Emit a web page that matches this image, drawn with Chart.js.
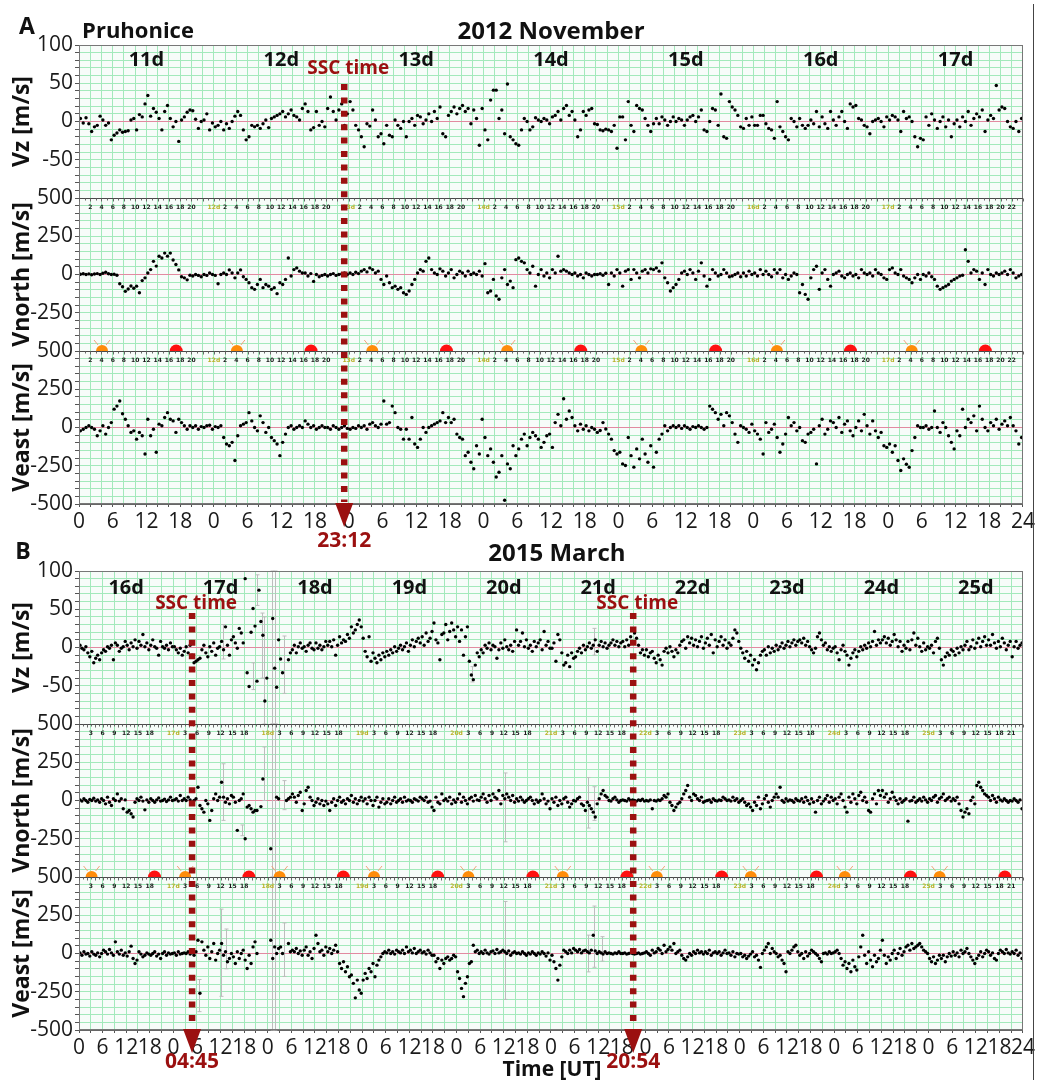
<!DOCTYPE html>
<html>
<head>
<meta charset="utf-8">
<title>Pruhonice drift velocities</title>
<script src="https://cdn.jsdelivr.net/npm/chart.js@4.4.1/dist/chart.umd.min.js"></script>
<style>
  body { margin: 0; background: #fff; width: 1037px; height: 1080px; position: relative; overflow: hidden; font-family: "Open Sans", sans-serif; }
  canvas { position: absolute; left: 0; }
  #chartA { top: 0; }
  #chartB { top: 548px; }
  .lbl { position: absolute; font-weight: bold; color: #111; white-space: nowrap; line-height: 1; transform: translate(-50%, -50%); z-index: 2; }
  .frame { position: absolute; left: 1033px; top: 4px; width: 1px; height: 1076px; background: #444; }
</style>
</head>
<body>
<canvas id="chartA" width="1037" height="548"></canvas>
<canvas id="chartB" width="1037" height="532"></canvas>
<div class="frame"></div>
<div class="lbl" style="left:27px;top:25px;font-size:23px">A</div>
<div class="lbl" style="left:138px;top:29px;font-size:22px">Pruhonice</div>
<div class="lbl" style="left:551px;top:30px;font-size:24px">2012 November</div>
<div class="lbl" style="left:23px;top:550px;font-size:23px">B</div>
<div class="lbl" style="left:557px;top:552px;font-size:24px">2015 March</div>
<div class="lbl" style="left:552px;top:1068px;font-size:21px">Time [UT]</div>
<script>
// ---- panel A: 2012 November 11-17, one value every 30 min ----
const daysA = ['11d', '12d', '13d', '14d', '15d', '16d', '17d'];
const aVz = [
  4,-2,5,-3, -13,-7,-5,7, 2,-5,-2,-24, -18,-15,-11,-14, -13,-12,2,4, -11,9,6,23, 34,7,17,12, 4,-11,13,21, 4,-7,0,-26, 2,6,12,15, 14,3,-9,0, 2,10,-11,-2,
  -7,-5,0,-11, -3,-9,0,7, 13,8,-11,-24, -20,-5,-7,-5, -9,-3,2,-8, 4,6,8,10, 13,6,10,15, 8,6,2,17, 23,13,-11,-8, 13,-5,0,-7, 17,32,13,2, 15,23,-5,10,
  26,15,-5,-11, -20,-33,-3,-6, 15,2,-20,-16, -29,-5,-18,-20, 2,-5,-9,0, -20,0,4,-5, 8,6,-3,2, 10,0,13,4, 19,-16,-20,8, 13,19,10,17, 21,13,17,-3, 15,4,-31,17,
  -11,-24,28,41, 41,4,15,-16, 49,-20,-24,-29, -31,-11,4,0, -11,-7,5,2, 0,4,2,-3, 6,8,13,2, 17,21,8,13, 2,-20,-11,13, 8,15,17,-3, -4,-11,-12,-10, -11,-13,-5,-35,
  6,6,-24,26, -5,-13,21,17, 15,4,-5,-13, -3,4,-3,6, 2,-5,0,6, 0,4,2,-5, 2,6,8,0, 6,15,-11,-13, 0,17,15,-5, 36,-20,-22,26, 19,15,8,-7, -9,4,-5,6,
  -5,-5,8,8, -3,-9,-11,-22, 26,-7,-13,-20, -24,4,0,-7, 4,-5,-9,-5, 2,-3,13,-7, 6,-3,-9,13, 2,-5,6,13, 0,-9,23,19, 21,4,2,-5, -7,-16,0,2, 4,0,-7,6,
  2,8,6,2, -13,13,4,6, 0,-20,-33,-22, -24,6,-5,10, 2,-9,0,6, -7,2,-20,-3, 2,-7,6,0, 13,-5,4,10, 6,15,-13,2, 8,4,47,15, 19,17,0,-7, -9,0,-13,4
];
const aVnorth = [
  2,5,0,4, -2,3,6,0, 8,15,5,0, 2,-5,-60,-80, -110,-95,-75,-90, -76,-119,-40,-22, 10,32,86,55, 119,108,140,120, 140,95,65,30, -15,-22,-35,-5, -10,0,-6,-15, 0,-6,10,0,
  -6,-60,0,10, 0,30,10,-22, 10,30,-15,-32, -54,-86,-97,-65, -32,-86,-65,-76, -97,-86,-125,-54, -65,-32,108,-10, 32,43,22,10, 10,-10,6,-45, 0,-15,-6,0, -10,0,6,-6, 0,4,10,0,
  10,0,15,6, 22,32,17,43, 32,10,22,-32, -65,-10,-54,-86, -76,-97,-86,-119, -130,-108,-65,-32, 10,32,22,86, 108,32,10,0, 37,22,-10,10, 32,-22,0,22, 10,-10,22,0, 10,0,22,-10,
  71,-119,-108,-32, -140,-162,-22,32, -65,-43,-86,97, 108,86,76,32, 10,54,-76,0, 32,-10,10,-22, 32,10,119,22, 32,22,10,0, 10,-10,0,-22, 10,0,-10,0, 0,5,-5,8, -65,10,-10,32,
  10,-76,22,32, -32,32,10,-22, 22,32,10,37, 32,43,22,76, -22,-54,-108,-86, -65,-32,10,22, 0,32,10,-32, 22,76,-10,-76, -32,32,10,-10, 0,32,10,-15, -10,0,10,-15, 10,-10,22,0,
  10,-10,32,0, 22,0,-15,32, 10,32,-22,0, -32,-10,10,0, -119,-65,-130,-162, -22,32,54,-97, 10,32,-32,-76, 0,10,22,-10, -22,0,10,-10, 0,-22,32,10, 0,10,-10,32, 10,0,-22,-32,
  32,43,10,0, 32,-10,-22,-32, -54,-22,0,-32, 0,-10,10,-15, -32,-76,-97,-86, -76,-65,-43,-32, -22,-10,-5,162, 86,10,32,22, -32,10,-65,32, 0,-10,10,0, 10,22,0,32, 10,-22,-10,0
];
const aVeast = [
  -22,-11,0,11, 0,-11,-54,-22, 11,-43,0,32, 120,140,173,90, 54,11,-32,-22, -76,-32,-54,-173, 54,-54,-11,-162, 22,11,65,97, 54,43,-32,54, 32,11,-11,11, 0,11,-11,6, 0,11,15,-11,
  6,0,11,-65, -108,-119,-97,-216, -54,11,22,32, 97,43,0,-22, 76,32,-32,0, -65,-86,-108,-184, -97,-43,0,11, -11,0,11,0, 43,22,0,11, -11,0,11,0, 0,-11,11,0, -11,0,11,-6,
  -11,0,-6,11, 0,11,-11,22, 32,11,0,22, 173,22,32,140, 97,0,-11,-76, -11,-76,65,-108, -130,-76,0,-32, 0,11,22,32, 43,97,32,65, 32,54,-43,-65, -76,-184,-162,-227, -270,-119,-173,54,
  -65,-184,-140,-227, -324,-292,-184,-475, -238,-270,-119,-184, -140,-76,-43,-119, -65,-32,-54,-76, -130,-97,-54,-43, -130,32,86,11, 188,54,108,65, 11,-22,22,-11, 11,-22,0,-11, -32,-20,32,-10, -43,-76,-151,-173,
  -162,-238,-248,-65, -184,-259,-140,-205, -76,-173,-227,-119, -259,-162,-76,-43, 11,-22,0,11, 0,11,-6,11, 0,-11,6,0, 11,0,-11,0, 140,119,97,54, 86,11,97,76, 32,-43,-97,11, 0,-11,-32,22,
  -22,-43,-76,-173, 32,-32,-11,22, -65,-162,-108,-43, 65,11,32,-22, 0,-86,-97,-43, -32,-11,-238,11, 54,-43,-11,43, 32,0,65,-32, 22,43,-22,-54, 0,43,-22,86, 11,-43,43,-22, -65,-32,-119,-130,
  -108,-162,-119,-216, -281,-205,-240,-260, -151,-65,11,0, 0,11,-11,0, 108,0,-32,32, 0,-54,-97,-140, -22,-54,119,0, 54,32,76,-22, 140,54,0,-22, 32,11,54,-11, 22,43,11,65, 11,-22,-108,-65
];
const sunriseA = [4.1, 28.1, 52.2, 76.2, 100.1, 124.2, 148.2];
const sunsetA = [17.3, 41.3, 65.4, 89.3, 113.3, 137.3, 161.3];
const sscA = [{ h: 47.2, label: '23:12' }];

// ---- panel B: 2015 March 16-25, one value every 30 min ----
const daysB = ['16d', '17d', '18d', '19d', '20d', '21d', '22d', '23d', '24d', '25d'];
const bVz = [
  3,-1,-3,1,-7,-12, -5,-20,-14,-10,-16,-7, -3,-5,1,-1,3,-16, 6,3,-5,-1,1,8, 3,-3,6,1,10,-1, 8,3,17,1,6,-3, 3,10,1,-1,-10,8, 1,-1,3,-3,6,1,
  1,-3,-7,-1,-10,-5, 1,-7,3,-10,-20,-18, -16,-14,-3,3,-7,-12, 1,-5,6,-10,-1,1, 8,-3,27,3,-10,10, 14,6,-1,25,19,6, 90,-33,-51,20,51,28, -44,75,34,16,-70,-40,
  null,null,38,-27,-52,10, -15,-33,null,null,-16,-7, -3,3,-7,1,6,-1, 1,-5,3,6,-1,-3, 6,-1,3,-3,1,8, 3,8,1,10,-10,3, 14,6,10,8,17,12, 27,19,23,30,36,27,
  12,-5,-12,14,-18,-7, -14,-20,-10,-16,-7,-12, -5,-10,-3,-7,1,-5, -1,3,-3,1,6,-5, 3,10,1,8,12,6, 14,3,19,8,12,21, 32,10,6,-16,17,19, 30,10,21,32,23,14,
  27,8,23,-10,14,27, -18,-36,-42,-23,-7,-12, -3,-7,3,-1,6,-3, 3,1,-14,-3,6,-1, 10,1,-3,3,-5,8, 23,3,8,19,1,10, -1,3,-5,8,1,6, 10,-3,21,3,8,-1,
  -1,6,-18,17,10,-7, -23,-20,-10,-25,-7,-14, -12,-5,-1,-7,3,-3, 1,6,-1,3,10,-5, 3,8,1,6,-1,3, 6,10,3,8,1,6, 8,1,10,3,14,8, 19,12,3,-7,-3,-10,
  -3,-12,-7,-5,-14,-20, -10,-16,-23,-5,-1,-7, 1,-5,-12,-3,-7,3, 8,10,-1,14,6,12, 3,10,1,8,14,-1, 6,12,3,17,-7,10, 1,8,14,3,10,-1, 6,3,12,23,19,8,
  -1,-7,-14,-5,-18,-10, -23,-16,-29,-20,-10,-5, -3,-10,1,-7,-1,-5, 3,-3,1,6,-1,3, 8,1,6,10,3,8, 10,6,12,3,8,1, -3,-7,-1,14,19,10, 3,6,-3,1,-5,-1,
  1,-7,-16,-3,3,-5, -10,-23,-14,-7,-3,-12, -5,1,-3,3,-1,6, 1,8,21,3,10,6, 10,14,6,12,3,8, 17,10,1,8,-5,3, -1,8,-3,10,19,3, 12,1,-5,6,-3,1,
  -1,3,-7,8,12,-1, -16,-23,-12,-7,-10,-3, -5,-10,-1,-7,1,-3, 3,8,-3,1,10,-1, 6,12,1,8,14,3, 10,3,17,6,-1,8, 1,12,6,-3,3,8, -12,1,8,-1,3,6
];
const bVnorth = [
  4,-4,11,0,-11,7, 0,15,-4,4,-11,11, 0,-22,22,-11,-33,11, 0,43,-4,11,-54,4, -76,-65,-87,-108,-11,11, 0,22,-4,-61,4,-11, 11,0,-11,4,17,-4, 0,9,-7,4,22,0,
  4,11,-4,33,0,11, 0,22,4,-11,0,11, 87,-33,-54,-76,0,-22, -130,-65,11,43,0,22, 119,22,-11,11,-22,33, 22,-11,-195,0,11,43, -250,-43,-33,-54,-76,-65, -65,null,-40,141,null,null,
  null,-315,null,null,22,11, null,null,null,0,11,22, 43,22,-11,33,54,-65, -22,65,87,22,0,-33, -11,11,-22,0,-33,-4, -22,-65,-11,11,-33,0, 22,-11,0,-22,11,0, 33,-11,11,-22,0,22,
  -4,11,-22,22,0,-33, 0,22,-43,-11,11,-22, -11,11,-22,0,22,-11, 0,11,-11,22,-4,4, 0,-11,11,4,-4,22, 11,0,22,-11,-4,-43, -65,22,-11,-22,43,0, 11,-4,22,-22,4,-11,
  11,43,-11,22,0,-22, 11,22,-4,33,4,0, 22,43,11,-11,33,0, 43,22,11,65,-22,33, 11,43,22,0,33,-11, 11,-4,22,4,-11,0, 11,22,0,-22,4,-11, 0,43,11,-22,-4,-54,
  11,-11,22,-33,0,-22, 11,22,-11,-43,-22,0, -4,11,22,-22,-33,-65, -11,-33,-54,-76,-108,-22, 11,43,65,33,22,0, -4,11,22,4,-11,0, 4,0,-4,11,0,4, 0,-4,4,0,9,-4,
  0,-4,4,-54,0,-4, 4,0,11,33,22,43, -11,-33,-65,-43,-22,-11, 11,43,65,98,22,0, 43,33,11,0,22,-11, -4,0,4,-11,11,0, -4,4,0,22,11,0, 4,-4,22,0,11,-11,
  0,11,-11,-33,-22,-43, -65,-11,-33,22,-54,-22, 11,33,-11,-43,0,22, 43,22,87,0,-11,11, -4,4,0,-11,11,0, -4,11,-11,22,0,-22, 11,-11,-76,0,22,-22, -4,11,33,-11,22,0,
  11,-22,22,43,0,-43, -76,22,-11,43,11,-22, 33,54,0,22,-11,-65, -76,11,43,-22,65,33, 65,22,43,-11,11,54, 22,0,-22,11,-11,0, 11,-135,-4,0,22,-11, 0,11,-4,22,4,-11,
  11,0,22,33,-11,11, 22,43,0,11,22,-4, 11,0,22,-22,-65,-108, -76,-54,-87,0,22,-22, 98,119,87,65,43,33, 22,0,33,11,-11,22, 4,-4,11,0,-11,0, -4,11,0,-11,4,-54
];
const bVeast = [
  4,-11,11,-4,0,-17, 11,-4,-11,4,-22,0, 22,11,-4,26,4,-11, 76,11,-4,22,-11,4, -17,11,48,-33,-65,-43, 11,-4,-22,-11,4,-4, -11,0,11,-17,-4,-33, 0,11,-11,4,-4,0,
  4,-11,11,-4,0,4, 0,11,-4,4,-11,11, 87,-260,76,22,-11,43, -33,11,65,-43,0,22, 65,-11,11,-54,-33,0, -22,-65,11,-33,0,22, -43,-98,-11,-65,43,76, 0,null,null,null,null,null,
  null,87,-33,43,0,33, 43,0,null,null,65,11, 22,11,33,0,17,-11, 22,43,-11,11,-33,33, 119,65,11,22,-11,43, 11,33,0,22,54,11, -65,-98,-54,-119,-87,-152, -141,-195,-290,-174,-239,-260,
  -174,-130,-163,-98,-119,-65, -152,-76,-43,-22,0,11, 4,22,0,11,-4,22, 11,4,22,0,43,11, 22,4,33,0,11,22, 4,11,-4,22,4,-11, -11,-54,-33,-98,-43,-65, -33,-22,-43,-33,-11,-22,
  -119,-163,-228,-282,-195,-152, -65,-54,54,11,22,0, 11,0,22,4,-4,11, 17,0,26,4,11,22, 11,0,17,-11,4,11, 0,4,-4,11,0,-11, 4,-4,11,0,-11,4, -4,11,0,-17,4,-43,
  -11,-54,-98,-174,-76,-22, 22,11,0,22,4,33, 22,11,26,4,17,22, 11,4,22,119,17,0, 11,4,-4,11,0,4, 0,-4,4,0,11,0, 0,4,-4,0,4,0, -4,0,4,-4,0,4,
  11,0,-11,22,4,11, 33,22,0,54,11,26, 43,22,65,0,11,22, -11,-33,-43,-22,0,-11, 11,0,22,4,11,-4, 11,0,22,-11,4,11, 0,11,-11,4,22,0, 4,-11,11,-22,0,-4,
  0,-22,-11,-33,-17,-4, 11,-22,-11,-43,-91,0, 22,43,65,0,33,11, 0,-22,-11,-43,-65,-119, 11,0,22,43,54,11, -11,0,-33,11,-17,0, 22,11,0,-11,-33,-54, 0,4,-4,11,0,4,
  11,22,0,-33,-76,-54, -98,-65,-119,-43,-87,-108, -22,43,119,-11,-65,11, -43,-87,-11,-54,-33,22, 87,-11,-65,-22,-43,0, 22,-33,0,33,-11,11, 43,54,22,65,33,43, 54,65,43,22,11,0,
  -33,-54,-22,-65,-43,-11, -33,-11,-54,-22,0,-17, 11,-11,4,-22,22,0, 11,33,0,-22,-43,-65, -33,-11,11,-22,0,22, 11,-11,4,-33,-43,0, 22,11,0,26,4,-4, 11,0,22,-11,4,-33
];
// error bars [hour, low, high]
const bVzErr = [[36.5,-15,30],[44.2,-55,-20],[45.3,55,95],[46.5,-40,45],[47.0,-100,40],[49.0,-100,100],[49.9,-100,100],[52.0,-60,15],[99.8,-45,-25],[131,-10,25]];
const bVnErr = [[36.5,-130,240],[41.5,-230,-160],[47.0,0,350],[49.0,-500,500],[49.9,-500,500],[52.0,-60,130],[108.3,-270,180],[129.5,-180,150],[131,-130,90]];
const bVeErr = [[30.6,-380,-170],[36.0,-280,290],[37.5,-100,160],[49.0,-500,500],[49.9,-500,500],[52.0,-150,200],[108.3,-300,340],[129.5,-120,120],[131,-90,310],[133,-50,110]];
const sunriseB = [3.2, 27.0, 51.0, 75.0, 99.0, 123.0, 146.9, 170.8, 194.7, 218.8];
const sunsetB = [19.2, 43.2, 67.2, 91.2, 115.4, 139.3, 163.4, 187.5, 211.4, 235.4];
const sscB = [{ h: 28.75, label: '04:45' }, { h: 140.9, label: '20:54' }];

const STEP = 0.5; // hours between samples
const FONT = '"Open Sans", "Noto Sans", sans-serif';
const GRID = '#a3e9bb';
const ZERO = '#e28aa0';
const DARKRED = '#9b1010';

Chart.defaults.font.family = FONT;
Chart.defaults.animation = false;

function points(vals) {
  return vals.map((v, i) => ({ x: i * STEP + STEP / 2, y: v }));
}

function yAxis(min, max, step, shown, title, weight) {
  return {
    type: 'linear', position: 'left', stack: 'v', stackWeight: 1, weight: weight,
    min: min, max: max,
    afterFit: s => { s.width = 79; },
    border: { color: '#666' },
    grid: {
      color: c => (c.tick && c.tick.value === 0) ? ZERO : GRID,
      tickColor: '#555', tickLength: 4
    },
    ticks: {
      stepSize: step, autoSkip: false, padding: 2, color: '#1a1a1a', font: { size: 21 },
      callback: v => shown.includes(v) ? String(v) : ''
    },
    title: {
      display: true, text: title, color: '#111',
      font: { size: 23, weight: 'bold' }, padding: { top: 9, bottom: 0 }
    }
  };
}

function decor(cfg) {
  return {
    id: 'decor',
    beforeDraw(chart) {
      const { ctx, chartArea: a } = chart;
      ctx.save();
      ctx.fillStyle = '#f7fcf9';
      ctx.fillRect(a.left, a.top, a.right - a.left, a.bottom - a.top);
      ctx.restore();
    },
    beforeDatasetsDraw(chart) {
      const { ctx, scales } = chart;
      ctx.save();
      ctx.strokeStyle = '#bdbdbd';
      ctx.lineWidth = 1;
      [['yz', cfg.vzErr], ['yn', cfg.vnErr], ['ye', cfg.veErr]].forEach(([id, list]) => {
        (list || []).forEach(([h, lo, hi]) => {
          const x = Math.round(scales.x.getPixelForValue(h)) + 0.5;
          const y1 = scales[id].getPixelForValue(lo);
          const y2 = scales[id].getPixelForValue(hi);
          ctx.beginPath();
          ctx.moveTo(x, y1); ctx.lineTo(x, y2);
          ctx.moveTo(x - 2, y1); ctx.lineTo(x + 2, y1);
          ctx.moveTo(x - 2, y2); ctx.lineTo(x + 2, y2);
          ctx.stroke();
        });
      });
      ctx.restore();
    },
    afterDraw(chart) {
      const { ctx, chartArea: a, scales } = chart;
      const px = h => scales.x.getPixelForValue(h);
      ctx.save();

      // frame and panel boundaries
      ctx.strokeStyle = '#777';
      ctx.lineWidth = 1;
      ctx.strokeRect(a.left + 0.5, a.top + 0.5, a.right - a.left - 1, a.bottom - a.top - 1);
      const rows = [scales.yn.getPixelForValue(500), scales.ye.getPixelForValue(500)];
      rows.forEach(y => {
        const yy = Math.round(y) + 0.5;
        ctx.strokeStyle = '#4a4a4a';
        ctx.beginPath(); ctx.moveTo(a.left, yy); ctx.lineTo(a.right, yy); ctx.stroke();
        // hourly ticks under the boundary
        ctx.strokeStyle = '#666';
        ctx.beginPath();
        for (let h = 0; h <= cfg.span; h++) {
          const x = Math.round(px(h)) + 0.5;
          ctx.moveTo(x, yy); ctx.lineTo(x, yy + (h % 2 === 0 ? 3 : 2));
        }
        ctx.stroke();
        // small hour labels
        ctx.textAlign = 'center';
        ctx.textBaseline = 'middle';
        ctx.font = 'bold 6px "DejaVu Sans", sans-serif';
        for (let d = 0; d < cfg.days.length; d++) {
          if (d > 0) {
            ctx.fillStyle = '#b9b22a';
            ctx.fillText(cfg.days[d], px(d * 24), yy + 9);
          }
          ctx.fillStyle = '#1a1a1a';
          const lastK = d === cfg.days.length - 1 ? 24 - cfg.lblStep : 24 - 2 * cfg.lblStep;
          for (let k = cfg.lblStep; k <= lastK; k += cfg.lblStep) {
            ctx.fillText(String(k), px(d * 24 + k), yy + 9);
          }
        }
      });

      // sunrise / sunset marks at the bottom of Vnorth
      const ys = Math.round(scales.yn.getPixelForValue(-500));
      cfg.sunrise.forEach(h => {
        const x = px(h);
        ctx.strokeStyle = '#f2a27a';
        ctx.lineWidth = 1;
        ctx.beginPath();
        ctx.moveTo(x - 4, ys - 6); ctx.lineTo(x - 8, ys - 11);
        ctx.moveTo(x + 4, ys - 6); ctx.lineTo(x + 8, ys - 11);
        ctx.stroke();
        ctx.fillStyle = '#ff8c0a';
        ctx.beginPath(); ctx.arc(x, ys, 6, Math.PI, 0); ctx.fill();
      });
      cfg.sunset.forEach(h => {
        ctx.fillStyle = '#ff1010';
        ctx.beginPath(); ctx.arc(px(h), ys, 6.5, Math.PI, 0); ctx.fill();
      });

      // day names
      ctx.fillStyle = '#111';
      ctx.font = 'bold 20px ' + FONT;
      ctx.textAlign = 'center';
      ctx.textBaseline = 'middle';
      cfg.days.forEach((d, i) => ctx.fillText(d, px(i * 24 + 12), a.top + cfg.dayY));

      // SSC arrows
      cfg.ssc.forEach(s => {
        const x = px(s.h);
        ctx.strokeStyle = DARKRED;
        ctx.lineWidth = 6.5;
        ctx.setLineDash([6, 7.4]);
        ctx.beginPath(); ctx.moveTo(x, a.top + cfg.sscTop); ctx.lineTo(x, a.bottom - 2); ctx.stroke();
        ctx.setLineDash([]);
        ctx.fillStyle = DARKRED;
        ctx.beginPath();
        ctx.moveTo(x - 9, a.bottom - 1); ctx.lineTo(x + 9, a.bottom - 1); ctx.lineTo(x, a.bottom + 23);
        ctx.closePath(); ctx.fill();
        ctx.font = 'bold 19px ' + FONT;
        ctx.fillText('SSC time', x + 4, a.top + cfg.sscTextY);
        ctx.font = 'bold 21px ' + FONT;
        ctx.fillText(s.label, x, a.bottom + cfg.timeY);
      });
      ctx.restore();
    }
  };
}

function buildPanel(id, cfg) {
  const ds = (vals, axis) => ({
    data: points(vals), yAxisID: axis,
    pointRadius: 1.7, pointBackgroundColor: '#000', pointBorderWidth: 0, showLine: false
  });
  return new Chart(document.getElementById(id), {
    type: 'scatter',
    data: { datasets: [ds(cfg.vz, 'yz'), ds(cfg.vn, 'yn'), ds(cfg.ve, 'ye')] },
    options: {
      responsive: false,
      events: [],
      layout: { padding: { top: cfg.padTop, right: 12, left: 0, bottom: 0 } },
      plugins: { legend: { display: false }, tooltip: { enabled: false } },
      scales: {
        x: {
          type: 'linear', position: 'bottom', min: 0, max: cfg.span,
          afterFit: s => { s.height = cfg.xAxisH; },
          border: { color: '#666' },
          grid: { color: GRID, tickColor: '#555', tickLength: 3 },
          ticks: {
            stepSize: cfg.gridStep, autoSkip: false, maxRotation: 0, padding: 2,
            color: '#1a1a1a', font: { size: 21 },
            callback: v => {
              const h = Math.round(v);
              if (h % 6 !== 0) return '';
              return String(h === cfg.span ? 24 : h % 24);
            }
          }
        },
        yz: yAxis(-100, 100, 10, [100, 50, 0, -50], 'Vz [m/s]', 3),
        yn: yAxis(-500, 500, 50, [500, 250, 0, -250], 'Vnorth [m/s]', 2),
        ye: yAxis(-500, 500, 50, [500, 250, 0, -250, -500], 'Veast [m/s]', 1)
      }
    },
    plugins: [decor(cfg)]
  });
}

buildPanel('chartA', {
  vz: aVz, vn: aVnorth, ve: aVeast, days: daysA, span: 168, gridStep: 2, lblStep: 2,
  sunrise: sunriseA, sunset: sunsetA, ssc: sscA,
  padTop: 45, xAxisH: 44, dayY: 15, sscTextY: 24, sscTop: 39, timeY: 37
});
buildPanel('chartB', {
  vz: bVz, vn: bVnorth, ve: bVeast, days: daysB, span: 240, gridStep: 3, lblStep: 3,
  vzErr: bVzErr, vnErr: bVnErr, veErr: bVeErr,
  sunrise: sunriseB, sunset: sunsetB, ssc: sscB,
  padTop: 23, xAxisH: 50, dayY: 17, sscTextY: 33, sscTop: 42, timeY: 32
});
</script>
</body>
</html>
